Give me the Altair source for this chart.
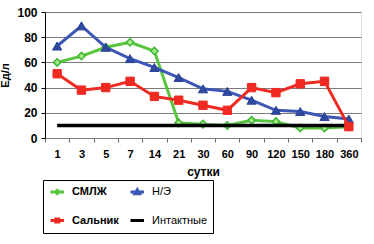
import altair as alt
import pandas as pd

days = ["1", "3", "5", "7", "14", "21", "30", "60", "90", "120", "150", "180", "360"]
smlzh = [60, 65, 72, 76, 69, 12, 11, 10, 14, 13, 8, 8, 9]
ne = [73, 89, 72, 63, 56, 48, 39, 37, 30, 22, 21, 17, 15]
salnik = [51, 38, 40, 45, 33, 30, 26, 22, 40, 36, 43, 45, 9]
intact = [10, 10, 10, 10, 10, 10, 10, 10, 10, 10, 10, 10, 10]
y_ticks = [0, 20, 40, 60, 80, 100]

series_names = ["СМЛЖ", "Н/Э", "Сальник", "Интактные"]
values = {"СМЛЖ": smlzh, "Н/Э": ne, "Сальник": salnik, "Интактные": intact}

rows = []
for s in series_names:
    for d, v in zip(days, values[s]):
        rows.append({"day": d, "value": v, "series": s})
df = pd.DataFrame(rows)

line_colors = {"СМЛЖ": "#56c43c", "Н/Э": "#3b56b5", "Сальник": "#ee2a22", "Интактные": "#000000"}
marker = {
    "СМЛЖ": dict(shape="diamond", fill="#a6e88a", stroke="#3fb833", size=55, strokeWidth=1.5),
    "Н/Э": dict(shape="triangle-up", fill="#2e4a9e", stroke="#2a3f96", size=85, strokeWidth=1),
    "Сальник": dict(shape="square", fill="#ee2a22", stroke="#ee2a22", size=70, strokeWidth=1),
}

font = "Liberation Sans"
xscale = alt.Scale(type="band", paddingInner=0, paddingOuter=0)
xaxis = alt.Axis(title="сутки", labelAngle=0, tickBand="extent", grid=False,
                 labelFont=font, labelFontSize=11, labelFontWeight="bold", labelColor="#000",
                 labelPadding=6, tickSize=4, tickColor="#666", domainColor="#808080",
                 titleFont=font, titleFontSize=12, titleFontWeight="bold", titleColor="#000",
                 titlePadding=7)
yscale = alt.Scale(domain=[0, 100], nice=False)
yaxis = alt.Axis(title="Ед/л", values=y_ticks, tickCount=6, gridColor="#7a7a7a",
                 gridWidth=1, labelOverlap=False, labelFlush=False,
                 labelFont=font, labelFontSize=12, labelFontWeight="bold",
                 labelColor="#000", labelPadding=4, tickSize=4, tickColor="#000",
                 domainColor="#000", titleFont=font, titleFontSize=11,
                 titleFontWeight="bold", titleColor="#000", titlePadding=6)
xenc = alt.X("day:N", sort=days, scale=xscale, axis=xaxis)
yenc = alt.Y("value:Q", scale=yscale, axis=yaxis)

layers = []
for s in ["СМЛЖ", "Интактные", "Н/Э", "Сальник"]:
    sub = alt.Chart(df).transform_filter(alt.datum.series == s)
    layers.append(sub.mark_line(color=line_colors[s], strokeWidth=3.5 if s == "Интактные" else 3)
                  .encode(x=xenc, y=yenc))
    if s in marker:
        m = marker[s]
        layers.append(sub.mark_point(filled=True, opacity=1, shape=m["shape"], fill=m["fill"],
                                     stroke=m["stroke"], size=m["size"], strokeWidth=m["strokeWidth"])
                      .encode(x=xenc, y=yenc))

leg_paths = [
    "M-0.8,0H1.9M0.55,-0.32L0.87,0L0.55,0.32L0.23,0Z",
    "M-0.8,0H1.9M0.55,-0.42L1.0,0.35L0.1,0.35Z",
    "M-0.8,0H1.9M0.25,-0.3H0.85V0.3H0.25Z",
    "M-0.8,0H1.9",
]
leg_df = pd.DataFrame({"series": series_names, "day": ["1"] * 4, "value": [-50] * 4})
legend = alt.Legend(title=None, orient="none", legendX=-2, legendY=168, columns=2,
                    direction="horizontal",
                    strokeColor="#000", fillColor="#fff", padding=5, rowPadding=13,
                    columnPadding=5, symbolSize=100, symbolStrokeWidth=3,
                    labelOffset=11, labelFont=font, labelFontSize=11, labelColor="#000",
                    labelFontWeight=alt.ExprRef("datum.label == 'Н/Э' || datum.label == 'Интактные' ? 'normal' : 'bold'"))
leg_layer = alt.Chart(leg_df).mark_point(filled=True, opacity=1, size=100, strokeWidth=3, clip=True).encode(
    x=xenc,
    y=yenc,
    shape=alt.Shape("series:N", scale=alt.Scale(domain=series_names, range=leg_paths), legend=legend),
    stroke=alt.Stroke("series:N", scale=alt.Scale(domain=series_names,
                      range=[line_colors[s] for s in series_names]), legend=legend),
    fill=alt.Fill("series:N", scale=alt.Scale(domain=series_names,
                  range=["#a6e88a", "#2e4a9e", "#ee2a22", "#000000"]), legend=legend),
)
layers.append(leg_layer)

chart = alt.layer(*layers).properties(
    width=316, height=126,
    autosize=alt.AutoSizeParams(type="none"),
    padding={"left": 45, "top": 12, "right": 13, "bottom": 106},
).configure_view(stroke="#8a8a8a").configure(background="#ffffff")

chart.save("out.html", embed_options={"renderer": "svg", "actions": False})
